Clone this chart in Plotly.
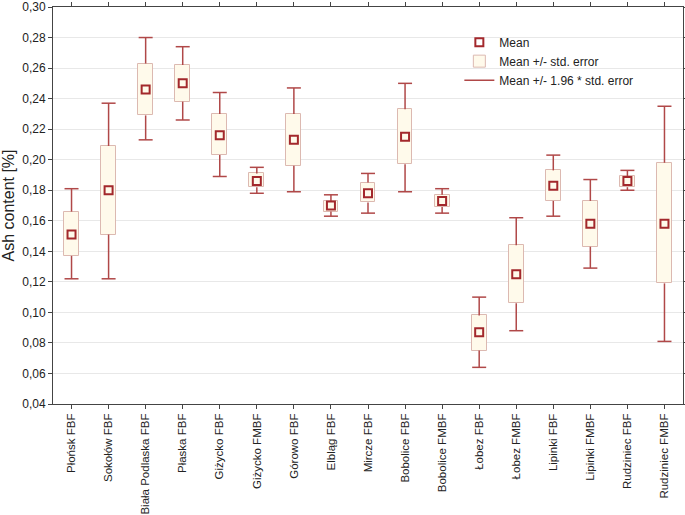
import plotly.graph_objects as go

# sample sites, values
sites = ["Płońsk FBF", "Sokołów FBF", "Biała Podlaska FBF", "Płaska FBF",
         "Giżycko FBF", "Giżycko FMBF", "Górowo FBF", "Elbląg FBF",
         "Mircze FBF", "Bobolice FBF", "Bobolice FMBF", "Łobez FBF",
         "Łobez FMBF", "Lipinki FBF", "Lipinki FMBF", "Rudziniec FBF",
         "Rudziniec FMBF"]
mean = [0.151, 0.180, 0.246, 0.250, 0.216, 0.186, 0.213, 0.170, 0.178,
        0.215, 0.173, 0.087, 0.125, 0.183, 0.158, 0.186, 0.158]
se_low = [0.137, 0.151, 0.229, 0.238, 0.203, 0.182, 0.196, 0.166, 0.172,
          0.197, 0.169, 0.075, 0.106, 0.173, 0.143, 0.182, 0.119]
se_high = [0.166, 0.209, 0.263, 0.262, 0.230, 0.191, 0.230, 0.173, 0.185,
           0.233, 0.177, 0.098, 0.144, 0.193, 0.173, 0.189, 0.198]
ci_low = [0.122, 0.122, 0.213, 0.226, 0.189, 0.178, 0.179, 0.163, 0.165,
          0.179, 0.165, 0.064, 0.088, 0.163, 0.129, 0.180, 0.081]
ci_high = [0.181, 0.237, 0.280, 0.274, 0.244, 0.195, 0.247, 0.177, 0.191,
           0.250, 0.181, 0.110, 0.162, 0.203, 0.187, 0.193, 0.235]

DARK = "#a3282c"
WHISK = "#b04848"

# whisker stems outside the boxes
sx, sy = [], []
for s, lo, bl, bh, hi in zip(sites, ci_low, se_low, se_high, ci_high):
    sx += [s, s, None, s, s, None]
    sy += [lo, bl, None, bh, hi, None]

fig = go.Figure()
fig.add_trace(go.Bar(
    x=sites, y=[h - l for h, l in zip(se_high, se_low)], base=se_low,
    width=0.4, name="Mean +/- std. error", legendrank=2,
    marker=dict(color="#fffaeb", line=dict(color="#dcb9b1", width=1)),
))
fig.add_trace(go.Scatter(
    x=sx, y=sy, mode="lines", line=dict(color=WHISK, width=1.5),
    name="Mean +/- 1.96 * std. error", legendrank=3,
))
fig.add_trace(go.Scatter(
    x=sites + sites, y=ci_low + ci_high, mode="markers", showlegend=False,
    marker=dict(symbol="line-ew", size=10, line=dict(color=WHISK, width=1.5)),
))
fig.add_trace(go.Scatter(
    x=sites, y=mean, mode="markers", name="Mean", legendrank=1,
    marker=dict(symbol="square-open", size=8, color=DARK,
                line=dict(color=DARK, width=2)),
))

fig.update_layout(
    width=685, height=515,
    margin=dict(l=53, r=2, t=7, b=111, autoexpand=False),
    plot_bgcolor="white", paper_bgcolor="white",
    font=dict(family="Liberation Sans, Arial", size=12, color="#222"),
    separators=",.",
    showlegend=True,
    legend=dict(x=0.645, y=0.948, xanchor="left", yanchor="top",
                bgcolor="rgba(255,255,255,0)", font=dict(size=12),
                itemwidth=30, tracegroupgap=0),
    bargap=0,
)
fig.update_xaxes(
    range=[-0.5, 16.5], tickangle=-90, showline=True, linecolor="#444",
    linewidth=1, mirror="ticks", ticks="outside", ticklen=4,
    tickcolor="#444", showgrid=False, automargin=False,
    tickfont=dict(size=11.5),
)
fig.update_yaxes(
    range=[0.04, 0.30], dtick=0.02, tickformat=".2f", showline=True,
    linecolor="#444", linewidth=1, mirror="ticks", ticks="outside",
    ticklen=4, tickcolor="#444", gridcolor="#e8e8e8", zeroline=False,
    automargin=False, ticklabeloverflow="allow",
    title=dict(text="Ash content [%]", font=dict(size=16), standoff=6),
)

# page body has a default 8px margin; drop it so the figure fills the window
fig.write_html("out.html", config={"displayModeBar": False},
               post_script="document.body.style.margin='0';")
